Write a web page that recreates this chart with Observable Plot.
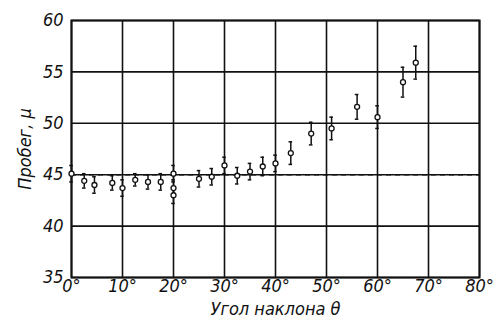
<!DOCTYPE html>
<html>
<head>
<meta charset="utf-8">
<script src="https://cdn.jsdelivr.net/npm/d3@7"></script>
<script src="https://cdn.jsdelivr.net/npm/@observablehq/plot@0.6"></script>
<style>
  html, body { margin: 0; padding: 0; background: #fff; }
  #chart svg { display: block; }
  #chart svg text { font-style: italic; }
</style>
</head>
<body>
<div id="chart"></div>
<script>
// Angle of inclination θ (degrees)
const angles = [0, 2.5, 4.5, 8, 10, 12.5, 15, 17.5, 20, 20, 20, 25, 27.5, 30, 32.5, 35, 37.5, 40, 43, 47, 51, 56, 60, 65, 67.5];
// Range (μ)
const values = [45.1, 44.4, 44.0, 44.2, 43.7, 44.5, 44.3, 44.3, 45.1, 43.7, 43.0, 44.6, 44.8, 45.9, 44.9, 45.3, 45.8, 46.1, 47.1, 49.0, 49.5, 51.6, 50.6, 54.0, 55.9];
// Half-length of error bars (μ)
const errors = [0.8, 0.7, 0.8, 0.7, 0.8, 0.6, 0.7, 0.8, 0.8, 0.8, 0.8, 0.8, 0.8, 0.8, 0.8, 0.8, 0.9, 0.8, 1.1, 1.1, 1.1, 1.2, 1.1, 1.45, 1.6];
// Reference level (dashed line)
const refLevel = [45];
const xTicks = [0, 10, 20, 30, 40, 50, 60, 70, 80];
const yTicks = [35, 40, 45, 50, 55, 60];
const xLabel = "Угол наклона θ";
const yLabel = "Пробег, μ";

const data = angles.map((t, i) => ({t, v: values[i], e: errors[i]}));
const font = "'Liberation Sans Narrow', 'DejaVu Sans Condensed', 'DejaVu Sans', sans-serif";

const chart = Plot.plot({
  width: 496,
  height: 322,
  marginLeft: 71,
  marginRight: 17,
  marginTop: 20,
  marginBottom: 45,
  x: {domain: [0, 80]},
  y: {domain: [35, 60]},
  style: {fontFamily: font, background: "#fff", color: "#111"},
  marks: [
    Plot.ruleX(xTicks, {stroke: "#111", strokeWidth: 1.6}),
    Plot.ruleY(yTicks, {stroke: "#111", strokeWidth: 1.6}),
    Plot.ruleY(refLevel, {x1: 0, x2: 80, stroke: "#111", strokeWidth: 1.5, strokeDasharray: "5,4"}),
    Plot.frame({stroke: "#111", strokeWidth: 2}),
    Plot.axisY({
      ticks: yTicks, tickSize: 0, tickPadding: 8, fontSize: 18, fontStyle: "italic",
      label: yLabel, labelAnchor: "center", labelArrow: "none", labelOffset: 53
    }),
    Plot.axisX({
      ticks: xTicks, tickSize: 0, tickPadding: 2, fontSize: 18, fontStyle: "italic",
      tickFormat: d => d + "°",
      label: xLabel, labelAnchor: "center", labelArrow: "none", labelOffset: 37
    }),
    Plot.ruleX(data, {x: "t", y1: d => d.v - d.e, y2: d => d.v + d.e, stroke: "#111", strokeWidth: 1.5}),
    Plot.ruleY(data, {y: d => d.v + d.e, x1: d => d.t - 0.35, x2: d => d.t + 0.35, stroke: "#111", strokeWidth: 1.5}),
    Plot.ruleY(data, {y: d => d.v - d.e, x1: d => d.t - 0.35, x2: d => d.t + 0.35, stroke: "#111", strokeWidth: 1.5}),
    Plot.dot(data, {x: "t", y: "v", r: 2.5, fill: "#fff", stroke: "#111", strokeWidth: 1.3})
  ]
});
document.getElementById("chart").appendChild(chart);
</script>
</body>
</html>
